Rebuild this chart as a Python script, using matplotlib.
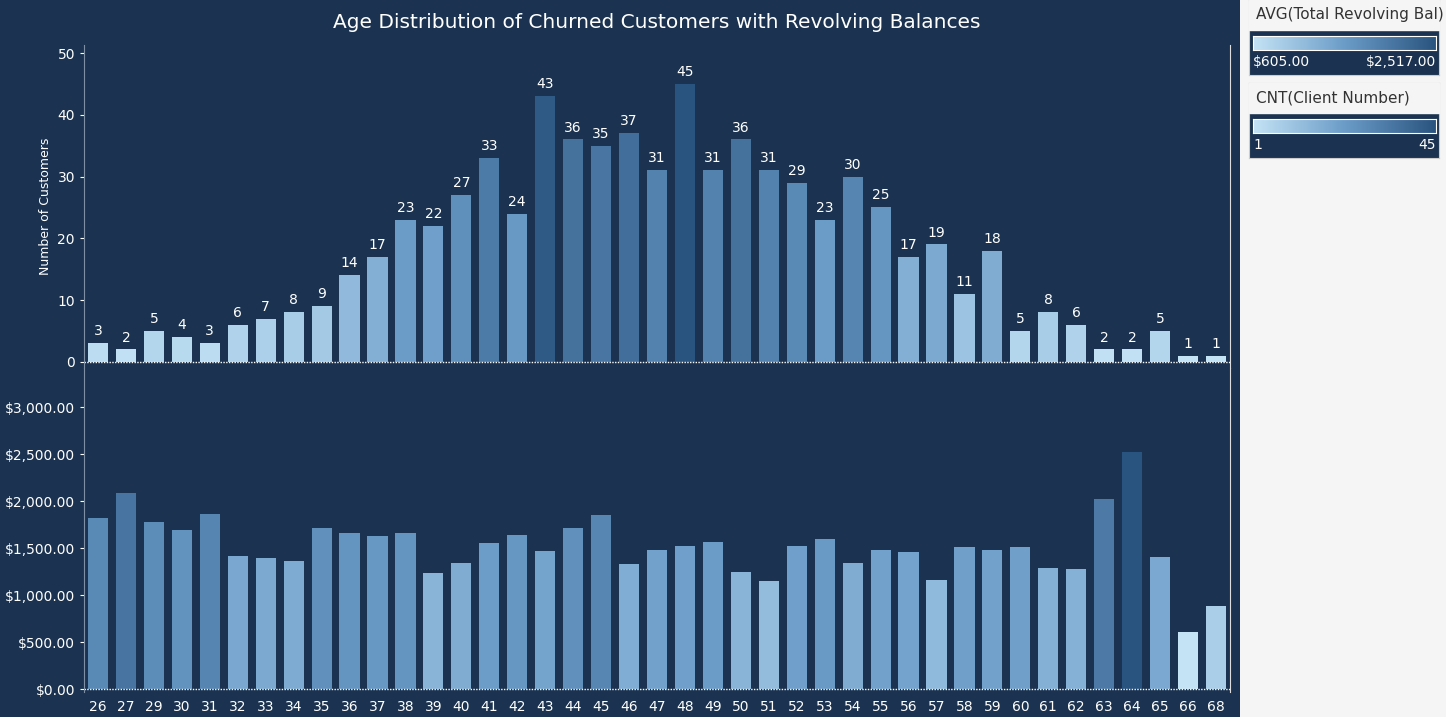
import matplotlib.pyplot as plt
from matplotlib.colors import LinearSegmentedColormap, Normalize
import numpy as np

ages = [26, 27, 29, 30, 31, 32, 33, 34, 35, 36, 37, 38, 39, 40, 41, 42, 43, 44, 45, 46,
        47, 48, 49, 50, 51, 52, 53, 54, 55, 56, 57, 58, 59, 60, 61, 62, 63, 64, 65, 66, 68]
counts = [3, 2, 5, 4, 3, 6, 7, 8, 9, 14, 17, 23, 22, 27, 33, 24, 43, 36, 35, 37,
          31, 45, 31, 36, 31, 29, 23, 30, 25, 17, 19, 11, 18, 5, 8, 6, 2, 2, 5, 1, 1]
avg_bal = [1820, 2085, 1777, 1691, 1862, 1415, 1394, 1362, 1713, 1660, 1628, 1660, 1234,
           1340, 1553, 1638, 1468, 1713, 1851, 1330, 1479, 1521, 1564, 1245, 1149, 1521,
           1596, 1340, 1479, 1457, 1160, 1511, 1479, 1511, 1287, 1277, 2021, 2517, 1404,
           605, 883]

bg = "#1b3350"
cmap = LinearSegmentedColormap.from_list("tabblue", ["#c4e3f5", "#6b9cc8", "#2a5480"])
x = np.arange(len(ages))

fig = plt.figure(figsize=(14.46, 7.17), dpi=100, facecolor="#f5f5f5")
dark = fig.add_axes([0, 0, 1240 / 1446, 1])
dark.set_facecolor(bg)
dark.set_xticks([]); dark.set_yticks([])
for s in dark.spines.values():
    s.set_visible(False)

W, H = 1446, 717
L, R = 84, 1230
ax1 = fig.add_axes([L / W, 1 - 368 / H, (R - L) / W, 323 / H])
ax2 = fig.add_axes([L / W, 1 - 692 / H, (R - L) / W, 324 / H])

for ax in (ax1, ax2):
    ax.set_facecolor(bg)
    for s in ax.spines.values():
        s.set_visible(False)
    ax.spines["right"].set_visible(True)
    ax.spines["right"].set_color("#dddddd")
    ax.spines["left"].set_visible(True)
    ax.spines["left"].set_color("#7f8fa3")
    ax.tick_params(colors="white", labelsize=10, length=3)
    ax.set_xlim(-0.5, len(ages) - 0.5)

ax1.bar(x, counts, width=0.72, color=cmap(Normalize(1, 45)(counts)))
for xi, c in zip(x, counts):
    ax1.text(xi, c + 0.8, str(c), ha="center", va="bottom", color="white", fontsize=10)
ax1.set_ylim(-1, 51.3)
ax1.set_yticks([0, 10, 20, 30, 40, 50])
ax1.set_xticks([])
ax1.axhline(0, color="white", lw=1, ls=(0, (1, 1)))
ax1.set_ylabel("Number of Customers", color="white", fontsize=9)

ax2.bar(x, avg_bal, width=0.72, color=cmap(Normalize(605, 2517)(avg_bal)))
ax2.set_ylim(-30, 3415)
ax2.set_yticks([0, 500, 1000, 1500, 2000, 2500, 3000])
ax2.set_yticklabels(["$%s.00" % format(v, ",") for v in [0, 500, 1000, 1500, 2000, 2500, 3000]])
ax2.axhline(0, color="white", lw=1, ls=(0, (1, 1)))
ax2.set_xticks(x)
ax2.set_xticklabels([str(a) for a in ages])
ax2.tick_params(axis="x", length=0, pad=6)

fig.text((L + R) / 2 / W, 1 - 22 / H, "Age Distribution of Churned Customers with Revolving Balances",
         ha="center", va="center", color="white", fontsize=14.5)

# legends in sidebar
def legend(y0, title, lo, hi):
    box = fig.add_axes([1249 / W, 1 - (y0 + 75) / H, 190 / W, 75 / H])
    box.set_facecolor(bg)
    box.set_xticks([]); box.set_yticks([])
    for s in box.spines.values():
        s.set_color("#cccccc")
    fig.text(1256 / W, 1 - (y0 + 15) / H, title, fontsize=11, color="#333333", va="center")
    fig.patches.append(plt.Rectangle((1249 / W, 1 - (y0 + 30) / H), 190 / W, 30 / H,
                                     transform=fig.transFigure, color="#f5f5f5", zorder=3))
    grad = fig.add_axes([1253 / W, 1 - (y0 + 50) / H, 183 / W, 14 / H], zorder=4)
    grad.imshow(np.linspace(0, 1, 256)[None, :], aspect="auto", cmap=cmap)
    grad.set_xticks([]); grad.set_yticks([])
    for s in grad.spines.values():
        s.set_color("white")
    fig.text(1253 / W, 1 - (y0 + 62) / H, lo, fontsize=10, color="white", va="center")
    fig.text(1436 / W, 1 - (y0 + 62) / H, hi, fontsize=10, color="white", va="center", ha="right")

legend(0, "AVG(Total Revolving Bal)", "$605.00", "$2,517.00")
legend(83, "CNT(Client Number)", "1", "45")

fig.savefig("out.png", dpi=100, facecolor=fig.get_facecolor())
